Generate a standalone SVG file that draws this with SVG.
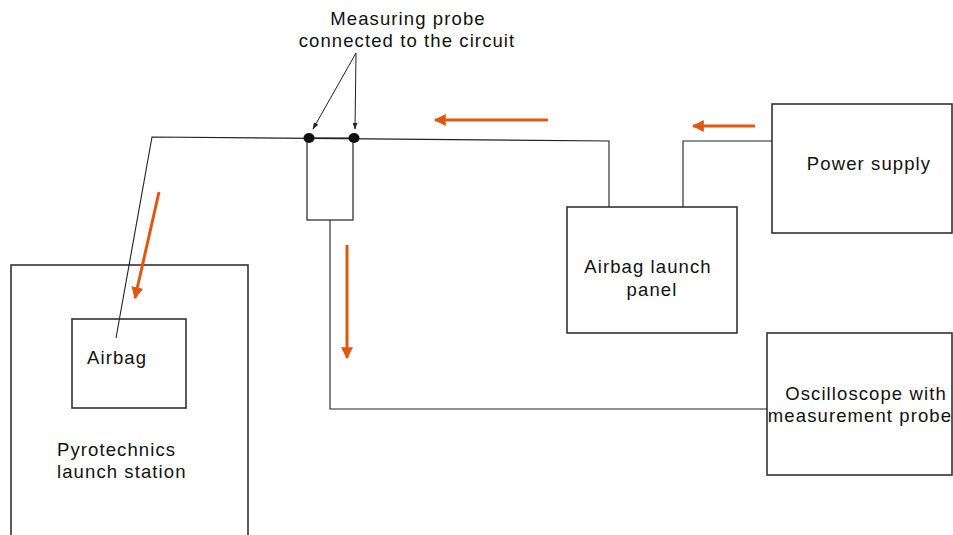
<svg xmlns="http://www.w3.org/2000/svg" width="953" height="535" viewBox="0 0 953 535">
<style>
.box{fill:#fff;stroke:#333;stroke-width:1.6}
.wire{fill:none;stroke:#222;stroke-width:1.1}
.flow{fill:none;stroke:#e2570f;stroke-width:3}
.ptr{fill:none;stroke:#222;stroke-width:1}
text{font-family:"Liberation Sans",Arial,sans-serif;font-size:18.5px;fill:#111;letter-spacing:1.1px}
</style>
<defs>
<marker id="oh" viewBox="0 0 10 10" refX="9" refY="5" markerWidth="4" markerHeight="4" orient="auto" markerUnits="strokeWidth">
<path d="M0,0 L10,5 L0,10 Z" fill="#e2570f"/>
</marker>
<marker id="bh" viewBox="0 0 10 10" refX="9" refY="5" markerWidth="7" markerHeight="7" orient="auto" markerUnits="strokeWidth">
<path d="M0,1.5 L10,5 L0,8.5 Z" fill="#222"/>
</marker>
</defs>
<g id="pyro-station">
<rect class="box" x="11" y="265" width="237" height="285"/>
<text x="57" y="456">Pyrotechnics</text>
<text x="57" y="478">launch station</text>
</g>
<g id="airbag">
<rect class="box" x="72" y="319" width="114" height="89"/>
<text x="87" y="364">Airbag</text>
</g>
<g id="launch-panel">
<rect class="box" x="567" y="207" width="170" height="126"/>
<text x="648" y="273" text-anchor="middle">Airbag launch</text>
<text x="652" y="296" text-anchor="middle">panel</text>
</g>
<g id="power-supply">
<rect class="box" x="772" y="104" width="180" height="129"/>
<text x="869" y="170" text-anchor="middle">Power supply</text>
</g>
<g id="oscilloscope">
<rect class="box" x="767" y="333" width="185" height="142"/>
<text x="866" y="400" text-anchor="middle">Oscilloscope with</text>
<text x="860" y="422" text-anchor="middle">measurement probe</text>
</g>
<g id="probe">
<rect class="box" x="307" y="138" width="46" height="82" style="stroke-width:1.3"/>
<text x="408" y="25" text-anchor="middle">Measuring probe</text>
<text x="407" y="47" text-anchor="middle">connected to the circuit</text>
</g>
<g id="connectors">
<path class="wire" d="M116,338 L152,137 L609,141 L609,207"/>
<path class="wire" d="M683,207 L683,141 L772,141"/>
<path class="wire" d="M330,220 L330,409 L767,409"/>
<line class="ptr" x1="356" y1="53" x2="313" y2="129" marker-end="url(#bh)"/>
<line class="ptr" x1="356" y1="53" x2="355" y2="129" marker-end="url(#bh)"/>
<ellipse cx="309" cy="138" rx="5.5" ry="5" fill="#111"/>
<ellipse cx="354" cy="138" rx="5.5" ry="5" fill="#111"/>
<line class="flow" x1="548" y1="120" x2="435" y2="120" marker-end="url(#oh)"/>
<line class="flow" x1="755" y1="126" x2="693" y2="126" marker-end="url(#oh)"/>
<line class="flow" x1="347" y1="245" x2="347" y2="358" marker-end="url(#oh)"/>
<line class="flow" x1="159" y1="192" x2="135" y2="298" marker-end="url(#oh)"/>
</g>
</svg>
